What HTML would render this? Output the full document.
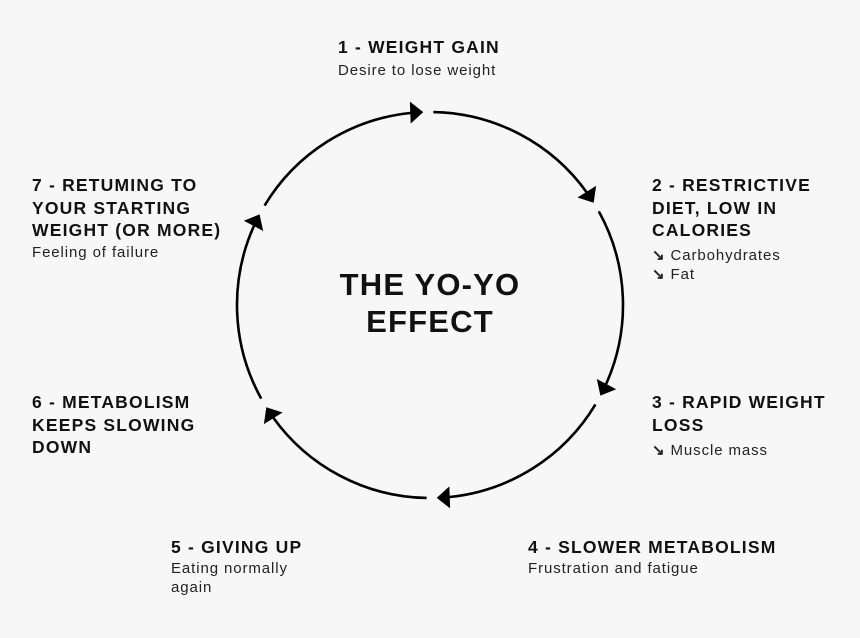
<!DOCTYPE html>
<html><head><meta charset="utf-8"><style>
body{margin:0;width:860px;height:638px;background:#f7f7f7;position:relative;overflow:hidden;font-family:"Liberation Sans",sans-serif;color:#111}
.h{position:absolute;font-weight:bold;font-size:17.5px;line-height:22.5px;letter-spacing:1.2px;white-space:nowrap}
.b{position:absolute;font-size:15px;line-height:18.5px;letter-spacing:0.9px;white-space:nowrap;color:#222}
.c{position:absolute;left:230px;width:400px;text-align:center;font-weight:bold;font-size:31px;line-height:37px;letter-spacing:1.2px}
svg{position:absolute;left:0;top:0}
</style></head><body>
<svg id="s" width="860" height="638"></svg>
<div class="h" style="left:338px;top:36px">1 - WEIGHT GAIN</div>
<div class="b" style="left:338px;top:62px">Desire to lose weight</div>
<div class="h" style="left:652px;top:174px">2 - RESTRICTIVE<br>DIET, LOW IN<br>CALORIES</div>
<div class="b" style="left:652px;top:247px"><b>↘</b> Carbohydrates<br><b>↘</b> Fat</div>
<div class="h" style="left:652px;top:391px">3 - RAPID WEIGHT<br>LOSS</div>
<div class="b" style="left:652px;top:442px"><b>↘</b> Muscle mass</div>
<div class="h" style="left:528px;top:536px">4 - SLOWER METABOLISM</div>
<div class="b" style="left:528px;top:560px">Frustration and fatigue</div>
<div class="h" style="left:171px;top:536px">5 - GIVING UP</div>
<div class="b" style="left:171px;top:560px">Eating normally<br>again</div>
<div class="h" style="left:32px;top:391px">6 - METABOLISM<br>KEEPS SLOWING<br>DOWN</div>
<div class="h" style="left:32px;top:174px">7 - RETUMING TO<br>YOUR STARTING<br>WEIGHT (OR MORE)</div>
<div class="b" style="left:32px;top:244px">Feeling of failure</div>
<div class="c" style="top:266px">THE YO-YO<br>EFFECT</div>
<script>
var cx=430,cy=305,r=193,s='';
function p(a,rr){a=a*Math.PI/180;return [cx+rr*Math.sin(a),cy-rr*Math.cos(a)];}
for(var k=0;k<6;k++){
 var t=-2+60*k, a0=t+3, tn=t+60, a1=tn-3.5;
 var P0=p(a0,r),P1=p(a1,r);
 s+='<path d="M'+P0[0]+' '+P0[1]+' A'+r+' '+r+' 0 0 1 '+P1[0]+' '+P1[1]+'" fill="none" stroke="#000" stroke-width="2.6"/>';
 var tip=p(tn,r),ar=tn*Math.PI/180,tx=Math.cos(ar),ty=Math.sin(ar),nx=Math.sin(ar),ny=-Math.cos(ar);
 var bx=tip[0]-tx*13,by=tip[1]-ty*13;
 s+='<polygon points="'+tip[0]+','+tip[1]+' '+(bx+nx*11)+','+(by+ny*11)+' '+(bx-nx*11)+','+(by-ny*11)+'" fill="#000"/>';
}
document.getElementById('s').innerHTML=s;
</script>
</body></html>
